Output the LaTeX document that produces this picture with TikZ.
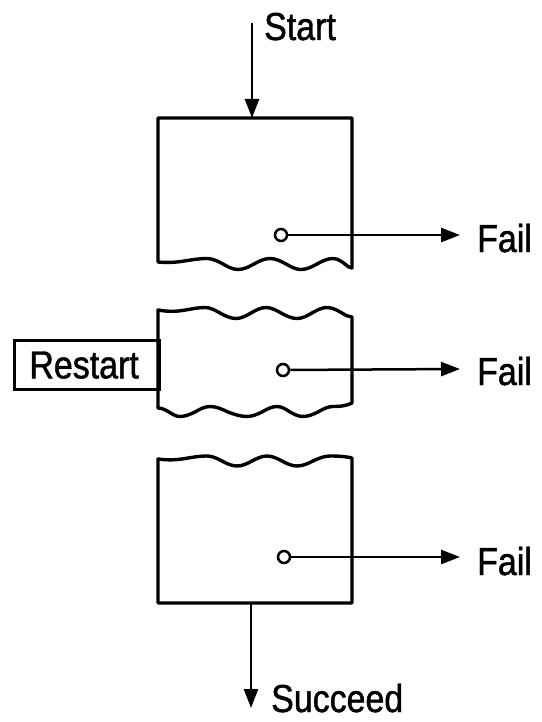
\documentclass[tikz,border=0pt]{standalone}
\usepackage{fontspec}
\setmainfont[FakeStretch=0.87,FakeBold=1.2]{Liberation Sans}
\usetikzlibrary{arrows.meta}
\begin{document}
\begin{tikzpicture}[x=1pt,y=-1pt,
  box/.style={line width=3.4pt, line join=round, line cap=round},
  arr/.style={line width=2.5pt, -{Triangle[length=19pt,width=14pt]}},
  pin/.style={circle, draw, line width=2.5pt, inner sep=0pt, minimum size=12pt, fill=white},
  lbl/.style={inner sep=0pt, font=\fontsize{39}{40}\selectfont}]
\useasboundingbox (0,0) rectangle (541,722);
% box 1
\draw[box] (158,262) .. controls (180,264) and (190,258.5) .. (207,258.5)
  cos (223,264) sin (238,269.5) cos (254,264) sin (270,258.5) cos (286,264)
  sin (301,269.5) cos (317,264) sin (333,258.5) cos (345,264) sin (352,268)
  -- (352,118) -- (158,118) -- cycle;
% box 2
\draw[box] (158,408) -- (158,310) .. controls (180,314) and (190,307.5) .. (205,307.5)
  cos (220,313) sin (236,318.5) cos (251,313) sin (266,307.5) cos (281,313)
  sin (297,318.5) cos (312,313) sin (327,307.5) cos (342,313) sin (352,317)
  -- (352,403);
\draw[box] (158,408) cos (169,412) sin (180,416.5) cos (195,412) sin (210,406.5)
  cos (228,412) sin (247,416.5) cos (262,412) sin (277,406.5) cos (290,412)
  sin (303,416.5) cos (318,412) sin (333,406.5) .. controls (343,406.5) and (348,405) .. (352,403);
% box 3
\draw[box] (352,603) -- (158,603) -- (158,459) .. controls (180,462) and (190,456) .. (207,456)
  cos (222,461) sin (237,466) cos (252,461) sin (267,456) cos (282,461)
  sin (297,466) cos (313,461) sin (330,456) .. controls (342,456) and (348,457) .. (352,458)
  -- cycle;
% restart
\node[draw, line width=3.2pt, minimum width=145pt, minimum height=49pt, anchor=north west, inner sep=0pt,
  font=\fontsize{39}{40}\selectfont] (restart) at (13,339) {\hspace*{-6pt}Restart};
% start
\coordinate (s0) at (252,23);
\coordinate (b1top) at (252,118);
\node[lbl, anchor=base west] (start) at (264,40) {Start};
\draw[arr] (s0) -- (b1top);
% succeed
\coordinate (b3bot) at (251,603);
\coordinate (s1) at (251,708);
\node[lbl, anchor=base west] (succeed) at (271,712) {Succeed};
\draw[arr] (b3bot) -- (s1);
% fail pins
\node[pin] (c1) at (281,235) {};
\node[pin] (c2) at (283,370) {};
\node[pin] (c3) at (284,557) {};
\node[lbl, anchor=base west] (f1) at (477,252) {Fail};
\node[lbl, anchor=base west] (f2) at (477,385) {Fail};
\node[lbl, anchor=base west] (f3) at (477,575) {Fail};
\coordinate (t1) at (460,235);
\coordinate (t2) at (460,369);
\coordinate (t3) at (460,557);
\draw[arr] (c1) -- (t1);
\draw[arr] (c2) -- (t2);
\draw[arr] (c3) -- (t3);
\end{tikzpicture}
\end{document}
